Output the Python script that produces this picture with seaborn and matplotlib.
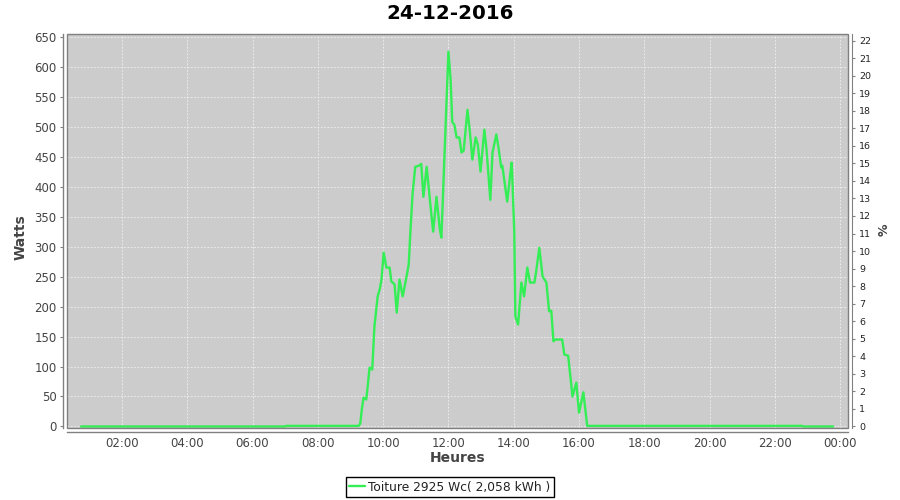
import pandas as pd
import matplotlib
matplotlib.use("Agg")
import matplotlib.pyplot as plt
import matplotlib.dates as mdates
from matplotlib.patches import Rectangle
import seaborn as sns

JOUR = "2016-12-24"
PUISSANCE_CRETE = 2925  # Wc
heures = [
    "00:45", "07:00", "07:02", "09:15", "09:18", "09:21", "09:24", "09:29", "09:32", "09:35",
    "09:40", "09:44", "09:50", "09:54", "09:57", "10:01", "10:06", "10:12", "10:15", "10:21",
    "10:25", "10:30", "10:36", "10:43", "10:47", "10:50", "10:54", "10:59", "11:06", "11:10",
    "11:14", "11:20", "11:29", "11:32", "11:38", "11:44", "11:47", "11:49", "11:54", "12:00",
    "12:04", "12:07", "12:11", "12:15", "12:20", "12:24", "12:28", "12:35", "12:39", "12:44",
    "12:50", "12:54", "12:59", "13:06", "13:10", "13:17", "13:21", "13:28", "13:32", "13:37",
    "13:39", "13:45", "13:48", "13:56", "13:57", "14:01", "14:03", "14:08", "14:14", "14:19",
    "14:25", "14:30", "14:38", "14:41", "14:47", "14:53", "15:00", "15:05", "15:09", "15:13",
    "15:16", "15:29", "15:33", "15:40", "15:48", "15:55", "16:00", "16:08", "16:15", "22:50",
    "22:52", "23:47",
]
watts = [
    0, 0, 1, 1, 5, 30, 48, 45, 70, 98,
    95, 167, 217, 230, 245, 290, 265, 265, 242, 237,
    190, 245, 217, 250, 270, 323, 387, 433, 435, 438,
    383, 433, 350, 325, 383, 330, 315, 362, 482, 625,
    578, 508, 503, 482, 482, 457, 460, 528, 495, 445,
    482, 470, 425, 495, 462, 378, 457, 487, 465, 432,
    435, 395, 375, 440, 425, 323, 183, 170, 240, 217,
    265, 240, 240, 257, 298, 250, 240, 192, 193, 142,
    145, 145, 120, 118, 50, 73, 23, 57, 1, 1,
    0, 0,
]
legende = "Toiture 2925 Wc( 2,058 kWh )"
titre = "24-12-2016"

VERT = "#33EE55"
GRIS_AXE = "#808080"
TEXTE = "#444444"

df = pd.DataFrame({
    "heure": pd.to_datetime([f"{JOUR} {h}" for h in heures]),
    "watts": watts,
})

sns.set_style("white")
plt.rcParams["font.family"] = ["DejaVu Sans"]

fig = plt.figure(figsize=(9, 5), dpi=100)
ax = fig.add_axes([0.0744, 0.145, 0.8681, 0.787])
ax.set_facecolor("#CCCCCC")

sns.lineplot(data=df, x="heure", y="watts", ax=ax, color=VERT, lw=1.7, legend=False)

# limites (marges comme sur l'original)
debut = pd.Timestamp(JOUR)
ax.set_xlim(debut + pd.Timedelta(minutes=19), debut + pd.Timedelta(hours=24, minutes=14, seconds=42))
ylim = (-1.7, 654.5)
ax.set_ylim(*ylim)
ax.set_yticks(range(0, 651, 50))
ax.xaxis.set_major_locator(mdates.HourLocator(byhour=range(0, 24, 2)))
ax.xaxis.set_major_formatter(mdates.DateFormatter("%H:%M"))

ax.grid(True, color="#F2F2F2", linestyle=(0, (2, 2)), lw=0.6)

for s in ["top", "right"]:
    ax.spines[s].set_visible(False)
for s in ["left", "bottom"]:
    ax.spines[s].set_position(("outward", 3))
    ax.spines[s].set_color(GRIS_AXE)
    ax.spines[s].set_linewidth(1)
ax.tick_params(axis="both", direction="out", length=2.5, width=0.8, color=GRIS_AXE,
               labelsize=8.5, labelcolor=TEXTE, pad=2)
ax.tick_params(axis="x", pad=1.5)

ax.set_xlabel("Heures", fontsize=10, weight="bold", color=TEXTE)
ax.xaxis.set_label_coords(0.5, -0.060)
ax.set_ylabel("Watts", fontsize=10, weight="bold", color=TEXTE)
ax.yaxis.set_label_coords(-0.0499, 0.483)

# axe droit en % de la puissance crête
ax2 = ax.twinx()
ax2.set_ylim(ylim[0] / PUISSANCE_CRETE * 100, ylim[1] / PUISSANCE_CRETE * 100)
ax2.set_yticks(range(0, 23))
ax2.patch.set_visible(False)
for s in ["top", "left", "bottom"]:
    ax2.spines[s].set_visible(False)
ax2.spines["right"].set_position(("outward", 3))
ax2.spines["right"].set_color(GRIS_AXE)
ax2.tick_params(axis="y", direction="out", length=2.5, width=0.8, color=GRIS_AXE,
                labelsize=6.8, labelcolor="#222222", pad=2.5)
ax2.set_ylabel("%", fontsize=9, weight="bold", color=TEXTE)
ax2.yaxis.set_label_coords(1.038, 0.503)

# cadre de la zone de tracé
ax2.add_patch(Rectangle((0, 0), 1, 1, transform=ax.transAxes, fill=False,
                        ec=GRIS_AXE, lw=1, zorder=5, clip_on=False))

fig.text(0.5, 1 - 13.5 / 500, titre, ha="center", va="center", fontsize=14.3,
         weight="bold", color="black")

leg = fig.legend([ax.lines[0]], [legende], loc="center", bbox_to_anchor=(0.4995, 0.026),
                 fontsize=8.8, frameon=True, fancybox=False, edgecolor="black", framealpha=1,
                 handlelength=1.3, handletextpad=0.2, borderpad=0.3, borderaxespad=0)
leg.get_frame().set_linewidth(1)
for t in leg.get_texts():
    t.set_color("#222222")

fig.savefig("out.png", dpi=100)
